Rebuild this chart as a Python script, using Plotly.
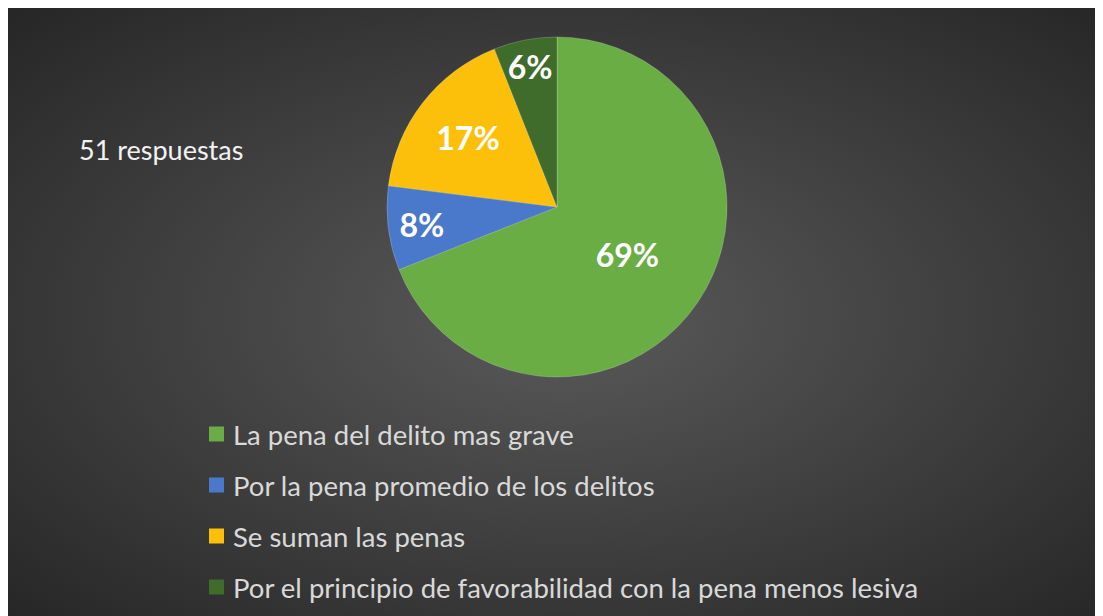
import base64
import plotly.graph_objects as go

# ---- data ----
labels = [
    "La pena del delito mas grave",
    "Por la pena promedio de los delitos",
    "Se suman las penas",
    "Por el principio de favorabilidad con la pena menos lesiva",
]
values = [69, 8, 17, 6]
colors = ["#69ad44", "#4a79cb", "#fcc00a", "#3f6b2b"]
subtitle = "51 respuestas"

W, H = 1130, 616
FONT = "Lato"

# background radial gradient (svg data uri), centred on the visible chart area
GW = 1111
svg = f'''<svg xmlns="http://www.w3.org/2000/svg" width="{W}" height="{H}" preserveAspectRatio="none">
<defs><radialGradient id="g" gradientUnits="userSpaceOnUse" cx="{GW/2}" cy="{H/2}" r="{0.72*GW}"
 gradientTransform="translate({GW/2} {H/2}) scale(1 {H/GW}) translate({-GW/2} {-H/2})">
<stop offset="0" stop-color="#5a5a5a"/><stop offset="1" stop-color="#252525"/></radialGradient></defs>
<rect width="{W}" height="{H}" fill="url(#g)"/></svg>'''
bg_uri = "data:image/svg+xml;base64," + base64.b64encode(svg.encode()).decode()

cx, cy, r = 549, 199, 170
dom_x = [(cx - r) / W, (cx + r) / W]
dom_y = [(H - cy - r) / H, (H - cy + r) / H]

fig = go.Figure(
    go.Pie(
        labels=labels,
        values=values,
        sort=False,
        direction="clockwise",
        rotation=0,
        marker=dict(colors=colors, line=dict(color="rgba(255,255,255,0.25)", width=0.8)),
        texttemplate="%{percent:.0%}",
        textposition="inside",
        insidetextorientation="horizontal",
        textfont=dict(family=FONT, size=32, color="white", weight="bold"),
        hoverinfo="label+percent",
        showlegend=False,
        domain=dict(x=dom_x, y=dom_y),
    )
)

fig.add_layout_image(
    dict(source=bg_uri, xref="paper", yref="paper", x=0, y=1,
         sizex=1, sizey=1, xanchor="left", yanchor="top",
         sizing="stretch", layer="below")
)

annotations = [
    dict(text=subtitle, x=69 / W, y=1 - 141 / H, xref="paper", yref="paper",
         xanchor="left", yanchor="middle", showarrow=False,
         font=dict(family=FONT, size=27, color="#f2f2f2"))
]
shapes = []
row0, gap = 426, 51
for i, (lab, col) in enumerate(zip(labels, colors)):
    yc = row0 + i * gap
    shapes.append(dict(type="rect", xref="paper", yref="paper",
                       x0=201 / W, x1=216 / W, y0=1 - (yc + 7.5) / H, y1=1 - (yc - 7.5) / H,
                       fillcolor=col, line=dict(width=0)))
    annotations.append(dict(text=lab, x=223 / W, y=1 - yc / H, xref="paper", yref="paper",
                            xanchor="left", yanchor="middle", showarrow=False,
                            font=dict(family=FONT, size=27.5, color="#d9d9d9")))

fig.update_layout(
    width=W, height=H,
    margin=dict(l=0, r=0, t=0, b=0),
    paper_bgcolor="#333333",
    plot_bgcolor="rgba(0,0,0,0)",
    uniformtext=dict(minsize=32, mode="show"),
    annotations=annotations,
    shapes=shapes,
)

fig.write_html("out.html", default_width=f"{W}px", default_height=f"{H}px")
